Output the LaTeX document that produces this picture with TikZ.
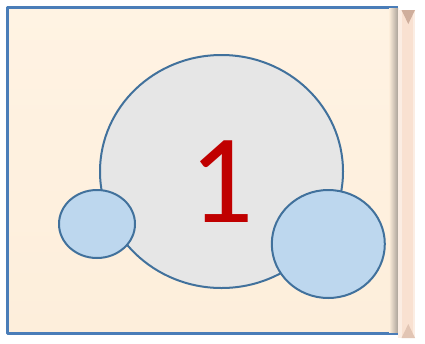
\documentclass[tikz,border=0pt]{standalone}
\usepackage{fontspec}
\newfontfamily\slidefont{Carlito}
\usetikzlibrary{positioning}
\definecolor{slideBg}{HTML}{FFF3E3}
\definecolor{slideBgDark}{HTML}{FDEEDB}
\definecolor{slideFrame}{HTML}{4A7DB8}
\definecolor{shapeLine}{HTML}{41719C}
\definecolor{bigFill}{HTML}{E6E6E6}
\definecolor{smallFill}{HTML}{BDD7EE}
\definecolor{digitRed}{HTML}{C00000}
\definecolor{stripFill}{HTML}{F9E1D1}
\definecolor{stripLight}{HTML}{FBEDE3}
\definecolor{stripBevel}{HTML}{CFAE9C}
\definecolor{stripShadow}{HTML}{ABA299}
\begin{document}
\begin{tikzpicture}[x=1pt, y=-1pt]
% canvas measured in pixels, y grows downwards
\providecommand{\frameLineWidth}{3pt}
\providecommand{\shapeLineWidth}{2pt}
\useasboundingbox (0,0) rectangle (425,343);
\fill[white] (0,0) rectangle (425,343);
\begin{scope}[line join=round]
  % Slide background with frame
  \shade[top color=slideBg, bottom color=slideBgDark] (7,7) rectangle (398,333.5);
  \draw[slideFrame, line width=\frameLineWidth] (398,7) -- (7,7) -- (7,333.5) -- (398,333.5);
  % Shadow next to the strip
  \shade[left color=slideBgDark, right color=stripShadow] (389,8.5) rectangle (398,332);
  % Big circle
  \draw[shapeLine, fill=bigFill, line width=\shapeLineWidth] (221.5,171.5) ellipse [x radius=121.5, y radius=116.5];
  % Small circles
  \begin{scope}[draw=shapeLine, fill=smallFill, line width=\shapeLineWidth]
    \filldraw (97,224) ellipse [x radius=38, y radius=34];
    \filldraw (328.3,244) ellipse [x radius=56.5, y radius=54];
  \end{scope}
  % Digit
  \node[inner sep=0pt, text=digitRed, font=\slidefont\fontsize{127}{127}\selectfont] (one) at (222,181.5) {1};
  % Bevelled strip on the right
  \fill[stripFill] (398,10) rectangle (415,338);
  \fill[stripLight] (398,10) rectangle (401.5,338);
  \fill[stripLight] (413,10) rectangle (415,338);
  \fill[stripBevel] (401.5,10) -- (415,10) -- (408.3,24) -- cycle;
  \fill[stripBevel!55!stripFill] (401.5,338) -- (415,338) -- (408.3,324) -- cycle;
\end{scope}
\end{tikzpicture}
\end{document}
